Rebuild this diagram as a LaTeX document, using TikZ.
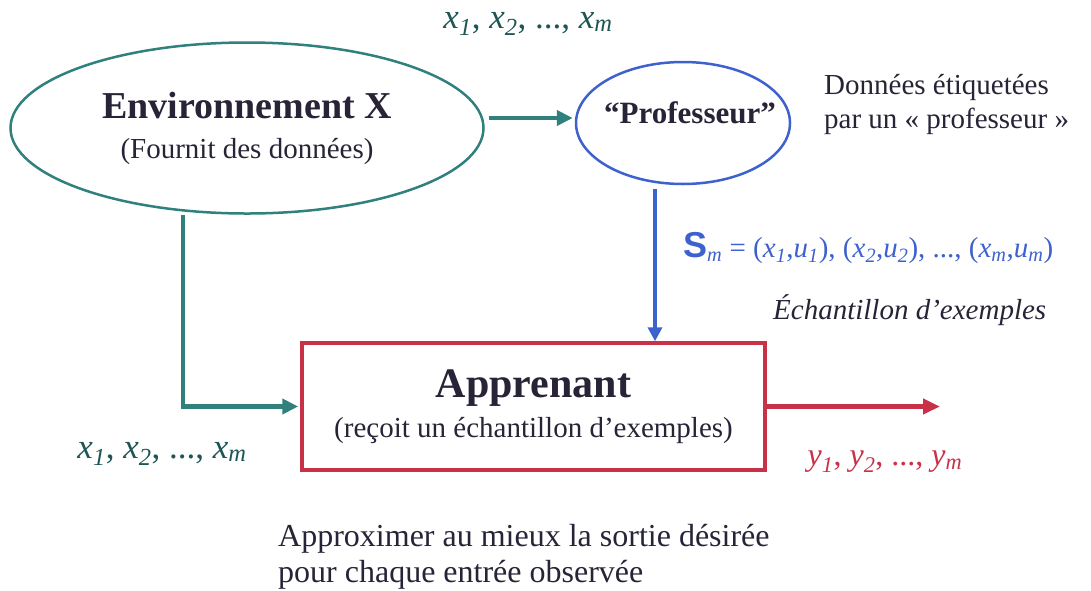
\documentclass[tikz,border=0pt]{standalone}
\usepackage{fontspec}
\setmainfont{Liberation Serif}
\newfontfamily\sansfont{Liberation Sans}
\usetikzlibrary{shapes.geometric,arrows.meta}
\definecolor{tealline}{RGB}{48,128,126}
\definecolor{tealtext}{RGB}{30,85,85}
\definecolor{profblue}{RGB}{62,98,205}
\definecolor{appred}{RGB}{200,50,72}
\definecolor{darktext}{RGB}{40,35,55}
\newcommand{\ix}[2]{\textit{#1}\textsubscript{\textit{#2}}}
\begin{document}
\begin{tikzpicture}[x=1pt,y=-1pt,font=\fontsize{29}{34}\selectfont]
        \tikzset{flow/.style={line width=4.5pt, draw=tealline, -{Triangle[length=16pt,width=15pt]}},
                 bflow/.style={line width=4pt, draw=profblue, -{Triangle[length=14pt,width=14pt]}},
                 rflow/.style={line width=4.5pt, draw=appred, -{Triangle[length=17pt,width=15pt]}},
                 lbl/.style={inner sep=0pt, text=darktext}}
        \useasboundingbox (0,0) rectangle (1091,590);
        % nodes
        \node[ellipse, draw=tealline, line width=2.5pt, minimum width=473pt, minimum height=171pt, inner sep=0pt, align=center, text=darktext] (env) at (247,128)
            {{\fontsize{38}{44}\selectfont\bfseries Environnement X}\\[6pt] (Fournit des données)};
        \node[ellipse, draw=profblue, line width=2.5pt, minimum width=214pt, minimum height=122pt, inner sep=0pt] (prof) at (683,123) {};
        \node[lbl, font=\fontsize{31}{36}\selectfont\bfseries] (proflbl) at (690,113) {“Professeur”};
        \node[draw=appred, line width=3.5pt, minimum width=463pt, minimum height=127pt, align=center, text=darktext] (app) at (533.5,406.5)
            {{\fontsize{42}{48}\selectfont\bfseries Apprenant}\\[6pt] (reçoit un échantillon d’exemples)};
        \coordinate (yout) at (940,407);
        % labels
        \node[lbl, text=tealtext] (xtop) at (528,24) {\fontsize{35}{40}\selectfont\ix{x}{1}, \ix{x}{2}, ..., \ix{x}{m}};
        \node[lbl, text=tealtext] (xbot) at (162,454) {\fontsize{35}{40}\selectfont\ix{x}{1}, \ix{x}{2}, ..., \ix{x}{m}};
        \node[lbl, text=appred] (yl) at (885,462) {\fontsize{32}{36}\selectfont\ix{y}{1}, \ix{y}{2}, ..., \ix{y}{m}};
        \node[lbl, text=profblue, anchor=west] (sm) at (683,248)
            {{\sansfont\bfseries\fontsize{36}{40}\selectfont S}\textsubscript{\textit{m}} = (\ix{x}{1},\ix{u}{1}), (\ix{x}{2},\ix{u}{2}), ..., (\ix{x}{m},\ix{u}{m})};
        \node[lbl, anchor=west] (ech) at (773,310) {\textit{Échantillon d’exemples}};
        \node[lbl, anchor=west, align=left] (donnees) at (824,104) {Données étiquetées\\par un « professeur »};
        \node[lbl, anchor=west, align=left, font=\fontsize{32}{36}\selectfont] (but) at (278,557)
            {Approximer au mieux la sortie désirée\\pour chaque entrée observée};
        % connectors
        \draw[flow] ([xshift=4pt,yshift=5pt]env.east |- prof.west) -- ([xshift=-2pt,yshift=5pt]prof.west);
        \draw[flow] ([xshift=-64pt]env.south) |- ([xshift=-2pt]app.west);
        \draw[bflow] ([xshift=-28pt,yshift=-4pt]prof.south) -- ([xshift=-28pt]prof.south |- app.north);
        \draw[rflow] (app.east) -- (app.east -| yout);
    \end{tikzpicture}
\end{document}
